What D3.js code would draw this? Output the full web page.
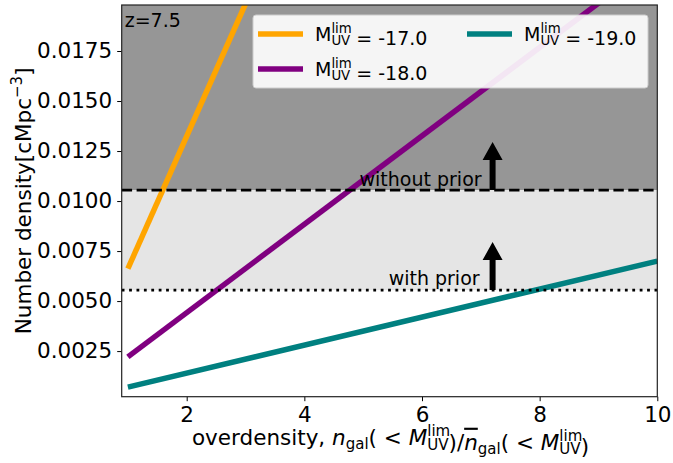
<!DOCTYPE html>
<html>
<head>
<meta charset="utf-8">
<script src="https://cdn.jsdelivr.net/npm/d3@7"></script>
<style>
  body { margin: 0; background: #fff; }
  text { font-family: "DejaVu Sans", sans-serif; }
</style>
</head>
<body>
<svg id="chart" width="673" height="463"></svg>
<script>
// overdensity range and number density per magnitude limit (linear in overdensity)
const overdensity = [1, 10];
const mags = ["-17.0", "-18.0", "-19.0"];
const meanDensity = [0.00662, 0.00221, 0.000700];
const colors = ["#ffa500", "#800080", "#008080"];
const limWithout = 0.01055;
const limWith = 0.00555;
const arrowX = 7.2;
const xTicks = [2, 4, 6, 8, 10];
const yTicks = [0.0025, 0.0050, 0.0075, 0.0100, 0.0125, 0.0150, 0.0175];

const svg = d3.select("#chart");
const m = {left: 121.7, right: 657.3, top: 5, bottom: 396.7};

const x = d3.scaleLinear().domain([0.895, 10]).range([m.left, m.right]);
const y = d3.scaleLinear().domain([0.00022, 0.0198]).range([m.bottom, m.top]);

svg.append("clipPath").attr("id", "clip")
  .append("rect").attr("x", m.left).attr("y", m.top)
  .attr("width", m.right - m.left).attr("height", m.bottom - m.top);

const plot = svg.append("g").attr("clip-path", "url(#clip)");

// shaded regions
plot.append("rect").attr("x", m.left).attr("width", m.right - m.left)
  .attr("y", m.top).attr("height", y(limWithout) - m.top)
  .attr("fill", "#969696");
plot.append("rect").attr("x", m.left).attr("width", m.right - m.left)
  .attr("y", y(limWithout)).attr("height", y(limWith) - y(limWithout))
  .attr("fill", "#e5e5e5");

// lines
const line = d3.line().x(d => x(d[0])).y(d => y(d[1]));
meanDensity.forEach((k, i) => {
  plot.append("path")
    .datum(overdensity.map(o => [o, o * k]))
    .attr("d", line)
    .attr("fill", "none")
    .attr("stroke", colors[i])
    .attr("stroke-width", 5.5);
});

// limit lines
plot.append("line").attr("x1", m.left).attr("x2", m.right)
  .attr("y1", y(limWithout)).attr("y2", y(limWithout))
  .attr("stroke", "#000").attr("stroke-width", 2.8).attr("stroke-dasharray", "10.4,4.5");
plot.append("line").attr("x1", m.left).attr("x2", m.right)
  .attr("y1", y(limWith)).attr("y2", y(limWith))
  .attr("stroke", "#000").attr("stroke-width", 2.8).attr("stroke-dasharray", "2.8,4.6");

// arrows
function arrow(v) {
  const ax = x(arrowX), y0 = y(v), len = 48, head = 18, hw = 10, sw = 3;
  plot.append("path")
    .attr("d", `M${ax - sw},${y0} L${ax - sw},${y0 - len + head} L${ax - hw},${y0 - len + head}
                L${ax},${y0 - len} L${ax + hw},${y0 - len + head} L${ax + sw},${y0 - len + head}
                L${ax + sw},${y0} Z`)
    .attr("fill", "#000");
}
arrow(limWithout);
arrow(limWith);

svg.append("text").attr("x", x(arrowX) - 11).attr("y", y(limWithout) - 4)
  .attr("text-anchor", "end").attr("font-size", 19).text("without prior");
svg.append("text").attr("x", x(arrowX) - 13).attr("y", y(limWith) - 5)
  .attr("text-anchor", "end").attr("font-size", 19).text("with prior");

svg.append("text").attr("x", m.left + 3).attr("y", m.top + 22)
  .attr("font-size", 19).text("z=7.5");

// axes
const xAxis = svg.append("g").attr("transform", `translate(0,${m.bottom})`)
  .call(d3.axisBottom(x).tickValues(xTicks).tickSize(4.5).tickPadding(4).tickFormat(d3.format("d")));
const yAxis = svg.append("g").attr("transform", `translate(${m.left},0)`)
  .call(d3.axisLeft(y).tickValues(yTicks).tickSize(4.5).tickPadding(5).tickFormat(d3.format(".4f")));
[xAxis, yAxis].forEach(a => {
  a.select(".domain").remove();
  a.selectAll("text").attr("font-size", 21.5).attr("font-family", "DejaVu Sans").attr("fill", "#000");
  a.selectAll("line").attr("stroke", "#000").attr("stroke-width", 1);
});
xAxis.selectAll("text").attr("dy", "0.8em");

svg.append("rect").attr("x", m.left).attr("y", m.top)
  .attr("width", m.right - m.left).attr("height", m.bottom - m.top)
  .attr("fill", "none").attr("stroke", "#222").attr("stroke-width", 1.2);

// axis labels
const yl = svg.append("text").attr("transform", `translate(31,${(m.top + m.bottom) / 2}) rotate(-90)`)
  .attr("text-anchor", "middle").attr("font-size", 21.5);
yl.append("tspan").text("Number density[cMpc");
yl.append("tspan").attr("dy", -9).attr("font-size", 15).text("\u22123");
yl.append("tspan").attr("dy", 9).text("]");

const xl = svg.append("text").attr("x", (m.left + m.right) / 2 + 1).attr("y", 445)
  .attr("text-anchor", "middle").attr("font-size", 21.5);
function mlim(t, italic, fs) {
  const s = fs * 0.7;
  t.append("tspan").attr("font-style", italic ? "italic" : "normal").text("M");
  t.append("tspan").attr("font-size", s).attr("dy", -fs * 0.4).text("lim");
  t.append("tspan").attr("font-size", s).attr("dx", -s * 1.53).attr("dy", fs * 0.62).text("UV");
  t.append("tspan").attr("dy", -fs * 0.22).text("");
}
xl.append("tspan").text("overdensity, ");
xl.append("tspan").attr("font-style", "italic").text("n");
xl.append("tspan").attr("font-size", 15).attr("dy", 4).text("gal");
xl.append("tspan").attr("dy", -4).text("( < ");
mlim(xl, true, 21.5);
xl.append("tspan").text(")/");
xl.append("tspan").attr("font-style", "italic").attr("text-decoration", "overline").text("n");
xl.append("tspan").attr("font-size", 15).attr("dy", 4).text("gal");
xl.append("tspan").attr("dy", -4).text("( < ");
mlim(xl, true, 21.5);
xl.append("tspan").text(")");

// legend
const lg = svg.append("g");
lg.append("rect").attr("x", 253).attr("y", 15).attr("width", 395).attr("height", 73)
  .attr("rx", 3).attr("fill", "#fff").attr("fill-opacity", 0.9)
  .attr("stroke", "#ccc").attr("stroke-width", 1);
const pos = [[258, 34], [258, 69], [467, 34]];
mags.forEach((mg, i) => {
  const [lx, ly] = pos[i];
  lg.append("line").attr("x1", lx).attr("x2", lx + 45).attr("y1", ly).attr("y2", ly)
    .attr("stroke", colors[i]).attr("stroke-width", 5.5);
  const t = lg.append("text").attr("x", lx + 57).attr("y", ly + 7).attr("font-size", 19);
  mlim(t, false, 19);
  t.append("tspan").text(" = " + mg);
});
</script>
</body>
</html>
